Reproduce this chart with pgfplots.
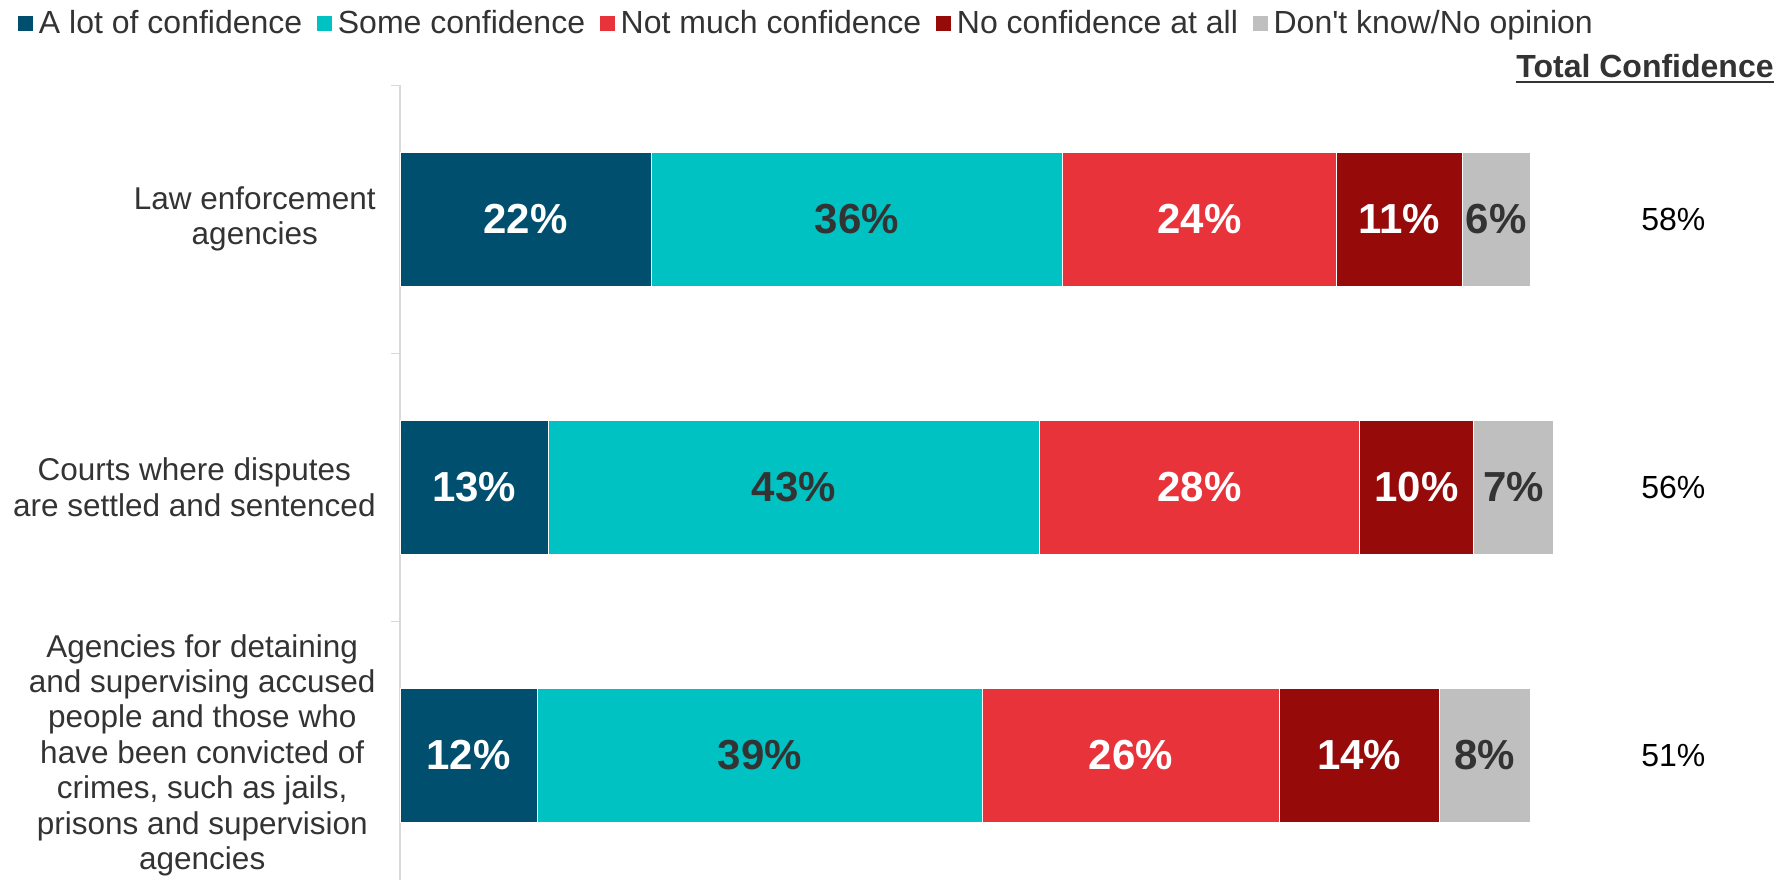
\documentclass[border=0pt]{standalone}
\usepackage{fontspec}
\setmainfont{Liberation Sans}
\usepackage{pgfplots}
\usepackage{pgfplotstable}
\pgfplotsset{compat=1.18}
\definecolor{c1}{HTML}{004F6E}
\definecolor{c2}{HTML}{00C2C3}
\definecolor{c3}{HTML}{E8333A}
\definecolor{c4}{HTML}{960A0A}
\definecolor{c5}{HTML}{BFBFBF}
\definecolor{txt}{HTML}{333333}
\definecolor{axl}{HTML}{D9D9D9}
\pgfplotstableread{
y a b c d e
0 22 36 24 11 6
1 13 43 28 10 7
2 12 39 26 14 8
}\datatable
\pgfplotsset{sq/.style={legend image code/.code={\fill[##1] (0pt,-4pt) rectangle (8pt,4pt);}}}
\begin{document}
\begin{tikzpicture}
\useasboundingbox (0,0) rectangle (894pt,440pt);
\begin{axis}[
  at={(200pt,0pt)}, anchor=south west,
  x=5.71pt, y=134pt, y dir=reverse,
  xmin=0, xmax=102, ymin=-0.5, ymax=2.466,
  xbar stacked, bar width=67pt,
  hide x axis,
  axis y line=left,
  y axis line style={-, draw=axl, line width=0.6pt},
  ytick={0,1,2},
  yticklabels={{Law enforcement\\agencies},{Courts where disputes\\are settled and sentenced},{Agencies for detaining\\and supervising accused\\people and those who\\have been convicted of\\crimes, such as jails,\\prisons and supervision\\agencies}},
  major tick length=0pt,
  yticklabel style={align=center, font=\fontsize{15.75}{17.7}\selectfont, text=txt, inner sep=0pt, xshift=-12pt},
  extra y ticks={-0.5,0.5,1.5},
  extra y tick labels={},
  extra y tick style={major tick length=4.5pt, tick align=outside, tick style={draw=axl, line width=0.6pt}},
  clip=false,
  point meta=explicit symbolic,
  nodes near coords={\pgfplotspointmeta\%},
  every node near coord/.append style={anchor=center, font=\fontsize{21}{24}\selectfont\bfseries},
  legend columns=-1,
  legend style={at={(axis description cs:-0.3288,1.078)}, anchor=west, draw=none, fill=none, inner sep=0pt,
    font=\fontsize{16}{19}\selectfont, text=txt, nodes={inner sep=0pt},
    /tikz/every odd column/.append style={column sep=2.5pt},
    /tikz/every even column/.append style={column sep=7pt}},
]
\addplot[fill=c1, draw=white, line width=0.3pt, sq, every node near coord/.append style={text=white}] table[x=a, y=y, meta=a] {\datatable};
\addplot[fill=c2, draw=white, line width=0.3pt, sq, every node near coord/.append style={text=txt}] table[x=b, y=y, meta=b] {\datatable};
\addplot[fill=c3, draw=white, line width=0.3pt, sq, every node near coord/.append style={text=white}] table[x=c, y=y, meta=c] {\datatable};
\addplot[fill=c4, draw=white, line width=0.3pt, sq, every node near coord/.append style={text=white}] table[x=d, y=y, meta=d] {\datatable};
\addplot[fill=c5, draw=white, line width=0.3pt, sq, every node near coord/.append style={text=txt}] table[x=e, y=y, meta=e] {\datatable};
\legend{A lot of confidence, Some confidence, Not much confidence, No confidence at all\hspace{4.5pt}, Don\textquotesingle t know/No opinion}
\node[font=\fontsize{16}{19}\selectfont] at (axis cs:111.5,0) {58\%};
\node[font=\fontsize{16}{19}\selectfont] at (axis cs:111.5,1) {56\%};
\node[font=\fontsize{16}{19}\selectfont] at (axis cs:111.5,2) {51\%};
\end{axis}
\node[anchor=base, inner sep=0pt, font=\bfseries\fontsize{16}{19}\selectfont, text=txt] (T) at (822.5pt,401.25pt) {Total Confidence};
\draw[line width=1pt, txt] ([yshift=-2.4pt]T.base west) -- ([yshift=-2.4pt]T.base east);
\end{tikzpicture}
\end{document}
